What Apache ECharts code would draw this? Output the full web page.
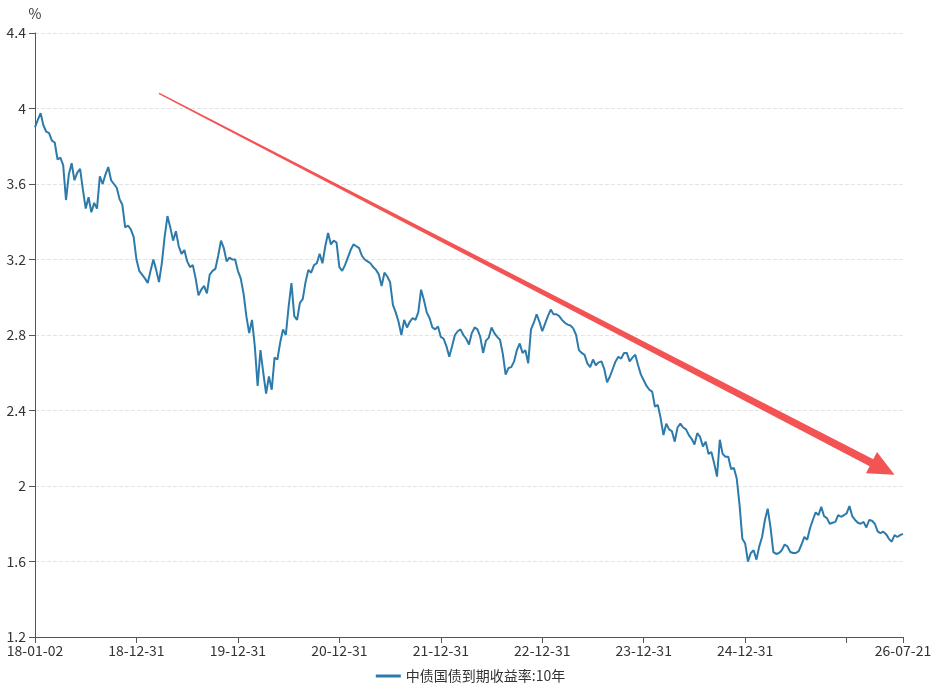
<!DOCTYPE html>
<html>
<head>
<meta charset="utf-8">
<title>中债国债到期收益率:10年</title>
<script src="https://cdn.jsdelivr.net/npm/echarts@6/dist/echarts.min.js"></script>
<style>
  html, body { margin: 0; padding: 0; background: #fff; }
  #main { width: 941px; height: 691px; }
</style>
</head>
<body>
<div id="main"></div>
<script>
// 日期: 首日 + 每月10日/20日/月末, 到 26-07-21
const dates = ['18-01-02'];
for (let m = 0; m < 102; m++) {
  const y = 2018 + Math.floor(m / 12), mo = m % 12 + 1;
  const last = new Date(y, mo, 0).getDate();
  const p = String(y).slice(2) + '-' + String(mo).padStart(2, '0') + '-';
  dates.push(p + '10', p + '20', p + String(last));
}
dates.push('26-07-10', '26-07-21');

// 显示的刻度标签
const labelDates = ['18-01-02', '18-12-31', '19-12-31', '20-12-31', '21-12-31',
  '22-12-31', '23-12-31', '24-12-31', '26-07-21'];
const tickDates = labelDates.concat(['25-12-31']);

// 10年期国债收益率 (%)
const yield10y = [
  3.90, 3.94, 3.975, 3.91, 3.877, 3.87, 3.83, 3.82, 3.73, 3.74,
  3.70, 3.515, 3.65, 3.71, 3.62, 3.66, 3.68, 3.57, 3.47, 3.53,
  3.45, 3.50, 3.47, 3.64, 3.60, 3.65, 3.69, 3.62, 3.60, 3.58,
  3.52, 3.49, 3.37, 3.38, 3.36, 3.32, 3.20, 3.14, 3.12, 3.10,
  3.075, 3.14, 3.20, 3.145, 3.08, 3.18, 3.32, 3.43, 3.37, 3.30,
  3.35, 3.27, 3.23, 3.25, 3.19, 3.16, 3.17, 3.10, 3.01, 3.04,
  3.06, 3.02, 3.12, 3.14, 3.15, 3.22, 3.30, 3.26, 3.19, 3.21,
  3.20, 3.20, 3.14, 3.10, 3.02, 2.90, 2.81, 2.88, 2.74, 2.53,
  2.72, 2.60, 2.49, 2.58, 2.51, 2.68, 2.67, 2.76, 2.83, 2.80,
  2.95, 3.075, 2.90, 2.88, 2.97, 2.99, 3.08, 3.145, 3.13, 3.17,
  3.18, 3.23, 3.18, 3.27, 3.34, 3.28, 3.30, 3.29, 3.16, 3.14,
  3.17, 3.21, 3.25, 3.28, 3.27, 3.26, 3.22, 3.20, 3.19, 3.18,
  3.16, 3.145, 3.12, 3.06, 3.13, 3.11, 3.08, 2.96, 2.92, 2.87,
  2.80, 2.88, 2.84, 2.87, 2.89, 2.88, 2.92, 3.04, 2.985, 2.92,
  2.89, 2.84, 2.83, 2.845, 2.79, 2.78, 2.74, 2.685, 2.74, 2.80,
  2.82, 2.83, 2.80, 2.78, 2.75, 2.81, 2.84, 2.83, 2.79, 2.705,
  2.77, 2.785, 2.84, 2.81, 2.79, 2.775, 2.70, 2.59, 2.625, 2.63,
  2.66, 2.72, 2.755, 2.705, 2.72, 2.65, 2.83, 2.865, 2.91, 2.87,
  2.82, 2.86, 2.90, 2.935, 2.91, 2.91, 2.90, 2.88, 2.865, 2.855,
  2.85, 2.835, 2.80, 2.72, 2.705, 2.695, 2.65, 2.63, 2.67, 2.64,
  2.655, 2.66, 2.62, 2.55, 2.58, 2.62, 2.66, 2.685, 2.675, 2.705,
  2.705, 2.66, 2.68, 2.695, 2.64, 2.59, 2.56, 2.53, 2.51, 2.50,
  2.42, 2.43, 2.36, 2.27, 2.33, 2.30, 2.29, 2.235, 2.31, 2.33,
  2.31, 2.30, 2.27, 2.25, 2.22, 2.28, 2.26, 2.21, 2.235, 2.17,
  2.18, 2.12, 2.05, 2.245, 2.17, 2.155, 2.155, 2.09, 2.095, 2.04,
  1.90, 1.72, 1.695, 1.60, 1.645, 1.66, 1.61, 1.68, 1.73, 1.82,
  1.88, 1.78, 1.65, 1.64, 1.645, 1.66, 1.69, 1.68, 1.65, 1.645,
  1.645, 1.655, 1.69, 1.73, 1.715, 1.776, 1.82, 1.86, 1.846, 1.89,
  1.84, 1.83, 1.80, 1.805, 1.81, 1.846, 1.837, 1.845, 1.855, 1.894,
  1.84, 1.82, 1.805, 1.80, 1.81, 1.78, 1.82, 1.816, 1.80, 1.76,
  1.75, 1.758, 1.745, 1.72, 1.705, 1.74, 1.73, 1.74, 1.746
];

// 趋势箭头 (数据坐标)
const arrowFrom = ['19-03-20', 4.08];
const arrowTo = ['26-06-20', 2.06];

const textColor = '#333';
const fontFamily = '"Noto Sans CJK SC", "Noto Sans", sans-serif';

let chart = echarts.init(document.getElementById('main'));
chart.setOption({
  animation: false,
  textStyle: { fontFamily: fontFamily },
  grid: { left: 35, right: 38, top: 33, bottom: 54 },
  legend: {
    bottom: 3,
    left: 'center',
    icon: 'rect',
    itemWidth: 25,
    itemHeight: 3,
    itemGap: 10,
    textStyle: { color: textColor, fontSize: 14 },
    data: ['中债国债到期收益率:10年']
  },
  xAxis: {
    type: 'category',
    boundaryGap: false,
    data: dates,
    axisLine: { lineStyle: { color: '#555' } },
    axisTick: {
      length: 6,
      lineStyle: { color: '#555' },
      interval: function (i, v) { return tickDates.indexOf(v) >= 0; }
    },
    axisLabel: {
      color: textColor,
      fontSize: 14,
      margin: 7,
      interval: function (i, v) { return labelDates.indexOf(v) >= 0; }
    },
    splitLine: { show: false }
  },
  yAxis: {
    type: 'value',
    min: 1.2,
    max: 4.4,
    interval: 0.4,
    name: '%',
    nameGap: 12,
    nameTextStyle: { color: textColor, fontSize: 14, align: 'center' },
    axisLine: { show: true, lineStyle: { color: '#555' } },
    axisTick: { show: true, length: 6, lineStyle: { color: '#555' } },
    axisLabel: { color: textColor, fontSize: 14, margin: 9 },
    splitLine: { lineStyle: { color: '#e3e3e3', type: 'dashed' } }
  },
  series: [{
    name: '中债国债到期收益率:10年',
    type: 'line',
    data: yield10y,
    showSymbol: false,
    color: '#2c7bab',
    lineStyle: { width: 2 }
  }]
});

// 画渐粗的红色箭头
function drawArrow() {
  const p0 = chart.convertToPixel({ gridIndex: 0 }, arrowFrom);
  const p1 = chart.convertToPixel({ gridIndex: 0 }, arrowTo);
  const dx = p1[0] - p0[0], dy = p1[1] - p0[1];
  const len = Math.sqrt(dx * dx + dy * dy);
  const ux = dx / len, uy = dy / len, nx = -uy, ny = ux;
  const headLen = 26, headHalf = 12, w0 = 1.5, w1 = 8;
  const bx = p1[0] - ux * headLen, by = p1[1] - uy * headLen;
  const pts = [
    [p0[0] + nx * w0 / 2, p0[1] + ny * w0 / 2],
    [bx + nx * w1 / 2, by + ny * w1 / 2],
    [bx + nx * headHalf, by + ny * headHalf],
    [p1[0], p1[1]],
    [bx - nx * headHalf, by - ny * headHalf],
    [bx - nx * w1 / 2, by - ny * w1 / 2],
    [p0[0] - nx * w0 / 2, p0[1] - ny * w0 / 2]
  ];
  chart.setOption({
    graphic: [{
      type: 'polygon',
      shape: { points: pts },
      style: { fill: '#f45353' },
      z: 100
    }]
  });
}
drawArrow();
</script>
</body>
</html>
